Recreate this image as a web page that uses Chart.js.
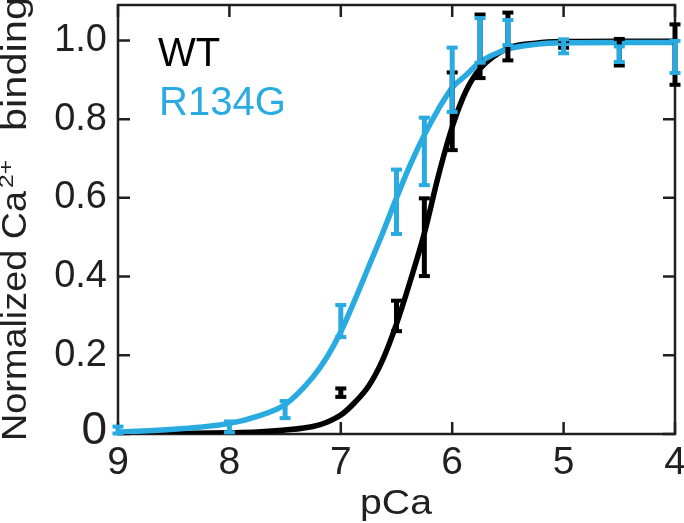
<!DOCTYPE html>
<html>
<head>
<meta charset="utf-8">
<script src="https://cdn.jsdelivr.net/npm/chart.js@4/dist/chart.umd.min.js"></script>
<style>
  html, body { margin: 0; padding: 0; background: #fff; }
  canvas { display: block; }
</style>
</head>
<body>
<canvas id="c" width="684" height="523"></canvas>
<script>
// measured points (pCa, normalized binding, error)
var wtX = [7, 6.5, 6.25, 6, 5.75, 5.5, 5, 4.5, 4];
var wtMean = [0.105, 0.30, 0.50, 0.82, 0.985, 1.01, 0.99, 0.97, 0.964];
var wtErr = [0.012, 0.04, 0.10, 0.10, 0.082, 0.062, 0.01, 0.035, 0.078];

var mutX = [9, 8, 7.5, 7, 6.5, 6.25, 6, 5.75, 5.5, 5, 4.5, 4];
var mutMean = [0.01, 0.018, 0.062, 0.287, 0.59, 0.718, 0.90, 1.0, 1.02, 0.985, 0.965, 0.958];
var mutErr = [0.01, 0.015, 0.023, 0.042, 0.083, 0.087, 0.083, 0.058, 0.033, 0.019, 0.021, 0.042];

// fitted curves
var fitX = [9, 8.5, 8, 7.75, 7.5, 7.25, 7.125, 7, 6.875, 6.75, 6.625, 6.5, 6.375, 6.25, 6.125, 6, 5.875, 5.75, 5.5, 5.25, 5, 4.5, 4];
var wtFit = [0.0, 0.001, 0.003, 0.005, 0.01, 0.019, 0.03, 0.048, 0.08, 0.122, 0.188, 0.28, 0.39, 0.51, 0.655, 0.78, 0.872, 0.928, 0.98, 0.993, 0.997, 0.998, 0.998];
var mutFit = [0.005, 0.012, 0.027, 0.045, 0.075, 0.145, 0.195, 0.26, 0.34, 0.425, 0.51, 0.60, 0.685, 0.76, 0.825, 0.88, 0.912, 0.945, 0.978, 0.99, 0.994, 0.995, 0.995];

var xTicks = [9, 8, 7, 6, 5, 4];
var yTicks = [0, 0.2, 0.4, 0.6, 0.8, 1.0];

var BLUE = '#29abe2';
var INK = '#231f20';
var FONT = '"Liberation Sans", Arial, sans-serif';

function pts(xs, ys) {
  return xs.map(function(x, i) { return { x: x, y: ys[i] }; });
}

// draw error bars through the chart scales
function drawBars(ctx, sx, sy, xs, mean, err, color) {
  ctx.save();
  ctx.strokeStyle = color;
  ctx.fillStyle = color;
  ctx.lineWidth = 5;
  xs.forEach(function(v, i) {
    var px = sx.getPixelForValue(v);
    var top = sy.getPixelForValue(mean[i] + err[i]);
    var bot = sy.getPixelForValue(mean[i] - err[i]);
    ctx.beginPath();
    ctx.moveTo(px, top);
    ctx.lineTo(px, bot);
    ctx.stroke();
    ctx.fillRect(px - 5.5, top - 1.5, 11, 4);
    ctx.fillRect(px - 5.5, bot - 2.5, 11, 4);
  });
  ctx.restore();
}

// text stretched to fit between two positions along the baseline
function fitText(ctx, text, from, to) {
  var w = ctx.measureText(text).width;
  ctx.save();
  ctx.translate(from, 0);
  ctx.scale((to - from) / w, 1);
  ctx.fillText(text, 0, 0);
  ctx.restore();
}

var framePlugin = {
  id: 'frame',
  beforeDatasetsDraw: function(chart) {
    var ctx = chart.ctx, a = chart.chartArea;
    var sx = chart.scales.x, sy = chart.scales.y;
    ctx.save();
    ctx.strokeStyle = INK;
    ctx.lineWidth = 2.5;
    ctx.strokeRect(a.left, a.top, a.right - a.left, a.bottom - a.top);
    ctx.beginPath();
    sx.ticks.forEach(function(t) {
      var px = sx.getPixelForValue(t.value);
      ctx.moveTo(px, a.bottom); ctx.lineTo(px, a.bottom - 12);
      ctx.moveTo(px, a.top); ctx.lineTo(px, a.top + 12);
    });
    sy.ticks.forEach(function(t) {
      var py = sy.getPixelForValue(t.value);
      ctx.moveTo(a.left, py); ctx.lineTo(a.left + 12, py);
      ctx.moveTo(a.right, py); ctx.lineTo(a.right - 12, py);
    });
    ctx.stroke();
    ctx.restore();
  },
  afterDatasetsDraw: function(chart) {
    var ctx = chart.ctx;
    var sx = chart.scales.x, sy = chart.scales.y;
    drawBars(ctx, sx, sy, wtX, wtMean, wtErr, '#000');
    drawBars(ctx, sx, sy, mutX, mutMean, mutErr, BLUE);
  },
  afterDraw: function(chart) {
    var ctx = chart.ctx, a = chart.chartArea;
    var sy = chart.scales.y;
    ctx.save();
    ctx.textBaseline = 'alphabetic';

    // the larger "0" tick label
    ctx.fillStyle = INK;
    ctx.textAlign = 'right';
    ctx.font = '46px ' + FONT;
    ctx.fillText('0', a.left - 11, sy.getPixelForValue(0) + 9.5);

    // legend
    ctx.textAlign = 'left';
    ctx.font = '40px ' + FONT;
    ctx.fillStyle = '#000';
    ctx.fillText('WT', 158, 66);
    ctx.fillStyle = BLUE;
    ctx.fillText('R134G', 159, 115);

    // x title
    ctx.fillStyle = INK;
    ctx.font = '35px ' + FONT;
    ctx.save();
    ctx.translate(0, 514);
    fitText(ctx, 'pCa', 360, 432);
    ctx.restore();

    // y title, rotated
    ctx.save();
    ctx.translate(26, 0);
    ctx.rotate(-Math.PI / 2);
    ctx.font = '35px ' + FONT;
    fitText(ctx, 'Normalized Ca', -441, -191);
    ctx.save();
    ctx.translate(0, -13);
    ctx.font = '21px ' + FONT;
    fitText(ctx, '2+', -188, -160);
    ctx.restore();
    ctx.font = '35px ' + FONT;
    fitText(ctx, 'binding', -131, 3);
    ctx.restore();

    ctx.restore();
  }
};

new Chart(document.getElementById('c').getContext('2d'), {
  type: 'line',
  data: {
    datasets: [
      {
        label: 'R134G',
        data: pts(fitX, mutFit),
        borderColor: BLUE,
        borderWidth: 5.5,
        pointRadius: 0,
        cubicInterpolationMode: 'monotone',
        fill: false
      },
      {
        label: 'WT',
        data: pts(fitX, wtFit),
        borderColor: '#000',
        borderWidth: 5.5,
        pointRadius: 0,
        cubicInterpolationMode: 'monotone',
        fill: false
      }
    ]
  },
  options: {
    responsive: false,
    animation: false,
    devicePixelRatio: 1,
    layout: { padding: { left: 0, right: 9, top: 5, bottom: 0 } },
    plugins: {
      legend: { display: false },
      tooltip: { enabled: false }
    },
    scales: {
      x: {
        type: 'linear',
        reverse: true,
        min: 4,
        max: 9,
        grid: { display: false, drawTicks: false },
        border: { display: false },
        afterBuildTicks: function(scale) {
          scale.ticks = xTicks.map(function(v) { return { value: v }; });
        },
        ticks: {
          padding: 6,
          color: INK,
          font: { size: 39, family: FONT },
          maxRotation: 0,
          autoSkip: false,
          callback: function(v) { return String(v); }
        },
        afterFit: function(scale) {
          scale.height = 89;
          scale.paddingLeft = 0;
          scale.paddingRight = 0;
        }
      },
      y: {
        type: 'linear',
        min: 0,
        max: 1.09,
        grid: { display: false, drawTicks: false },
        border: { display: false },
        afterBuildTicks: function(scale) {
          scale.ticks = yTicks.map(function(v) { return { value: v }; });
        },
        ticks: {
          padding: 11,
          color: INK,
          font: { size: 38, family: FONT },
          autoSkip: false,
          callback: function(v) { return v === 0 ? '' : v.toFixed(1); }
        },
        afterFit: function(scale) {
          scale.width = 118;
          scale.paddingTop = 0;
          scale.paddingBottom = 0;
        }
      }
    }
  },
  plugins: [framePlugin]
});
</script>
</body>
</html>
